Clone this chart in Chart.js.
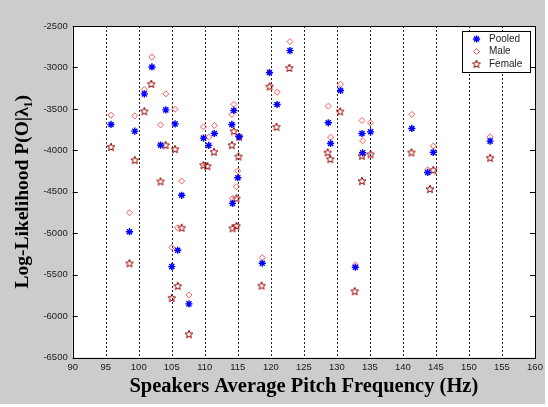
<!DOCTYPE html>
<html>
<head>
<meta charset="utf-8">
<script src="https://cdn.jsdelivr.net/npm/chart.js@4/dist/chart.umd.min.js"></script>
<style>
  html, body { margin: 0; padding: 0; background: #fff; }
  #wrap { width: 548px; height: 407px; }
</style>
</head>
<body>
<div id="wrap"><canvas id="myChart" width="548" height="407"></canvas></div>
<script>
// axis ticks
const xTicks = [90, 95, 100, 105, 110, 115, 120, 125, 130, 135, 140, 145, 150, 155, 160];
const yTicks = [-6500, -6000, -5500, -5000, -4500, -4000, -3500, -3000, -2500];

// Pooled (blue *)
const pooledHz = [95.8, 99.4, 102.0, 100.85, 104.1, 103.3, 105.5, 109.8, 110.6, 111.45, 114.4, 114.1, 115.2, 115.0,
  122.9, 119.8, 120.95, 130.55, 128.7, 129.05, 133.8, 133.9, 135.1, 141.35, 144.6, 143.75, 153.2,
  98.6, 106.5, 105.9, 105.0, 107.6, 114.2, 118.7, 132.8];
const pooledLL = [-3688, -3769, -2994, -3319, -3512, -3937, -3681, -3853, -3941, -3797, -3519, -3688, -3837, -4331,
  -2797, -3062, -3447, -3278, -3668, -3917, -3797, -4030, -3777, -3736, -4025, -4267, -3889,
  -4982, -4543, -5206, -5403, -5853, -4640, -5363, -5411];

// Male (red diamonds)
const maleHz = [95.8, 99.4, 102.0, 100.85, 104.1, 103.3, 105.5, 106.5, 109.8, 110.6, 111.45, 114.4, 114.1, 115.0, 114.8,
  122.9, 119.8, 120.95, 130.55, 128.7, 129.05, 133.8, 133.9, 135.1, 141.35, 144.6, 143.75, 153.2,
  98.6, 105.9, 105.0, 107.6, 114.2, 118.7, 132.8];
const maleLL = [-3576, -3584, -2873, -3266, -3319, -3693, -3504, -4371, -3717, -3841, -3700, -3447, -3567, -4247, -4440,
  -2688, -3062, -3299, -3202, -3467, -3841, -3640, -3886, -3668, -3567, -3949, -4235, -3837,
  -4753, -4934, -5170, -5745, -4580, -5295, -5383];

// Female (dark red pentagrams)
const femaleHz = [95.8, 99.4, 101.9, 100.85, 104.07, 105.5, 103.3, 109.8, 110.4, 111.4, 114.4, 115.2, 114.1, 115.1,
  122.8, 119.8, 120.85, 130.5, 128.6, 129.0, 133.8, 135.1, 133.8, 141.3, 144.6, 144.1, 153.2,
  98.6, 106.5, 105.9, 105.0, 107.6, 114.8, 114.2, 114.8, 118.6, 132.7];
const femaleLL = [-3958, -4118, -3199, -3528, -3937, -3986, -4375, -4178, -4190, -4018, -3769, -3837, -3937, -4074,
  -3006, -3230, -3717, -3531, -4025, -4106, -4066, -4049, -4371, -4025, -4239, -4467, -4090,
  -5363, -4934, -5636, -5781, -6218, -4580, -4941, -4913, -5632, -5700];

const seriesNames = ["Pooled", "Male", "Female"];

function toPoints(xs, ys) {
  return xs.map((x, i) => ({ x: x, y: ys[i] }));
}

// pentagram marker (MATLAB 'p')
function makeStar(color) {
  const c = document.createElement("canvas");
  c.width = 10; c.height = 10;
  const g = c.getContext("2d");
  g.strokeStyle = color;
  g.lineWidth = 1;
  g.beginPath();
  for (let k = 0; k < 10; k++) {
    const r = k % 2 === 0 ? 4.1 : 1.8;
    const a = -Math.PI / 2 + k * Math.PI / 5;
    const px = 5 + r * Math.cos(a), py = 5.3 + r * Math.sin(a);
    if (k === 0) g.moveTo(px, py); else g.lineTo(px, py);
  }
  g.closePath();
  g.stroke();
  return c;
}
const starImg = makeStar("#990000");

const serif = "'Liberation Serif', 'Times New Roman', 'DejaVu Serif', serif";
const sans = "'Liberation Sans', Arial, sans-serif";

// figure background, white axes box, dashed grid, border, ticks and legend
const matlabLook = {
  id: "matlabLook",
  beforeDraw(chart) {
    const ctx = chart.ctx, a = chart.chartArea;
    ctx.save();
    ctx.fillStyle = "#fff";
    ctx.fillRect(0, 0, chart.width, chart.height);
    ctx.fillStyle = "#cccccc";
    ctx.fillRect(0, 0, 545, 404);
    ctx.fillStyle = "#fff";
    ctx.fillRect(a.left, a.top, a.right - a.left, a.bottom - a.top);
    ctx.restore();
  },
  beforeDatasetsDraw(chart) {
    const ctx = chart.ctx, a = chart.chartArea;
    const xs = chart.scales.x;
    ctx.save();
    ctx.strokeStyle = "#222";
    ctx.lineWidth = 1;
    ctx.setLineDash([2, 2]);
    ctx.beginPath();
    xTicks.forEach(v => {
      const px = Math.round(xs.getPixelForValue(v)) + 0.5;
      ctx.moveTo(px, a.top); ctx.lineTo(px, a.bottom);
    });
    ctx.stroke();
    ctx.restore();
  },
  afterDatasetsDraw(chart) {
    const ctx = chart.ctx, a = chart.chartArea;
    const ys = chart.scales.y;
    ctx.save();
    ctx.strokeStyle = "#000";
    ctx.lineWidth = 1;
    ctx.strokeRect(Math.round(a.left) + 0.5, Math.round(a.top) + 0.5,
      Math.round(a.right - a.left), Math.round(a.bottom - a.top));
    ctx.beginPath();
    yTicks.forEach(v => {
      const py = Math.round(ys.getPixelForValue(v)) + 0.5;
      ctx.moveTo(a.left, py); ctx.lineTo(a.left + 5, py);
      ctx.moveTo(a.right, py); ctx.lineTo(a.right - 5, py);
    });
    ctx.stroke();

    // legend box
    const bx = 462, by = 31, bw = 68, bh = 41;
    ctx.fillStyle = "#fff";
    ctx.fillRect(bx, by, bw, bh);
    ctx.strokeStyle = "#000";
    ctx.strokeRect(bx + 0.5, by + 0.5, bw, bh);
    ctx.textBaseline = "middle";
    ctx.textAlign = "left";
    const rows = [39, 51.5, 64];
    chart.data.datasets.forEach((ds, i) => {
      const mx = 476.5, my = rows[i];
      ctx.strokeStyle = ds.borderColor;
      ctx.fillStyle = ds.backgroundColor;
      ctx.lineWidth = ds.borderWidth;
      Chart.helpers.drawPoint(ctx, {
        pointStyle: ds.pointStyle, radius: ds.pointRadius, rotation: 0,
        borderWidth: ds.borderWidth
      }, mx, my);
      ctx.font = "10px " + sans;
      ctx.fillStyle = "#222";
      ctx.fillText(ds.label, 489, my);
    });
    ctx.restore();
  }
};

const tickText = v => String(v);

const ctx = document.getElementById("myChart").getContext("2d");
const myChart = new Chart(ctx, {
  type: "scatter",
  data: {
    datasets: [
      {
        label: seriesNames[0],
        data: toPoints(pooledHz, pooledLL),
        pointStyle: "star",
        pointRadius: 3.6,
        borderWidth: 1.4,
        borderColor: "#0000ff",
        backgroundColor: "#0000ff"
      },
      {
        label: seriesNames[1],
        data: toPoints(maleHz, maleLL),
        pointStyle: "rectRot",
        pointRadius: 3,
        borderWidth: 1,
        borderColor: "#ff5a5a",
        backgroundColor: "rgba(0,0,0,0)"
      },
      {
        label: seriesNames[2],
        data: toPoints(femaleHz, femaleLL),
        pointStyle: starImg,
        pointRadius: 4,
        borderWidth: 1,
        borderColor: "#990000",
        backgroundColor: "rgba(0,0,0,0)"
      }
    ]
  },
  options: {
    responsive: false,
    animation: false,
    layout: { padding: { top: 26, right: 13, left: 0, bottom: 0 } },
    plugins: {
      legend: { display: false },
      tooltip: { enabled: false }
    },
    scales: {
      x: {
        type: "linear",
        min: 90, max: 160,
        afterBuildTicks: s => { s.ticks = xTicks.map(v => ({ value: v })); },
        afterFit: s => { s.height = 49.5; },
        border: { display: false },
        grid: { display: false, drawTicks: false },
        ticks: {
          padding: 4,
          color: "#1a1a1a",
          font: { family: sans, size: 9.5 },
          maxRotation: 0,
          autoSkip: false,
          callback: tickText
        },
        title: {
          display: true,
          text: "Speakers Average Pitch Frequency (Hz)",
          color: "#000",
          font: { family: serif, size: 20.5, weight: "bold" },
          padding: { top: 0, bottom: 8 }
        }
      },
      y: {
        type: "linear",
        min: -6500, max: -2500,
        afterBuildTicks: s => { s.ticks = yTicks.map(v => ({ value: v })); },
        afterFit: s => { s.width = 72.7; },
        border: { display: false },
        grid: { display: false, drawTicks: false },
        ticks: {
          padding: 5,
          color: "#1a1a1a",
          font: { family: sans, size: 9.5 },
          callback: tickText
        },
        title: {
          display: true,
          text: "Log-Likelihood P(O|λ₁)",
          color: "#000",
          font: { family: serif, size: 19.5, weight: "bold" },
          padding: { top: 11, bottom: 0 }
        }
      }
    }
  },
  plugins: [matlabLook]
});
</script>
</body>
</html>
